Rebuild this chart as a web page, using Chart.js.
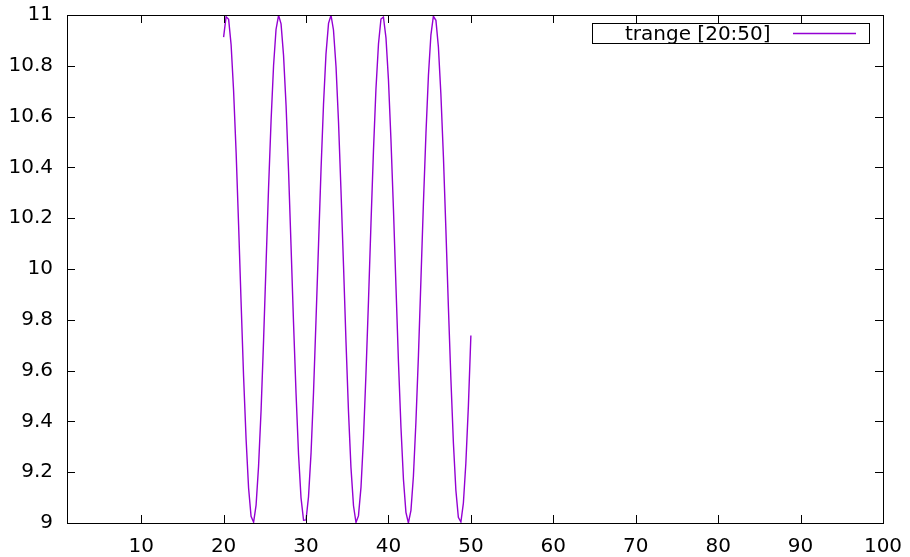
<!DOCTYPE html>
<html>
<head>
<meta charset="utf-8">
<script src="https://cdn.jsdelivr.net/npm/chart.js@4.4.1/dist/chart.umd.min.js"></script>
<style>
    html, body { margin: 0; padding: 0; background: #fff; }
    #wrap { width: 910px; height: 557px; }
</style>
</head>
<body>
<div id="wrap"><canvas id="plot" width="910" height="557"></canvas></div>
<script>
// parametric samples, t from 20 to 50 (100 samples)
const tValues = [
    20.00, 20.30, 20.61, 20.91, 21.21, 21.52, 21.82, 22.12, 22.42, 22.73,
    23.03, 23.33, 23.64, 23.94, 24.24, 24.55, 24.85, 25.15, 25.45, 25.76,
    26.06, 26.36, 26.67, 26.97, 27.27, 27.58, 27.88, 28.18, 28.48, 28.79,
    29.09, 29.39, 29.70, 30.00, 30.30, 30.61, 30.91, 31.21, 31.52, 31.82,
    32.12, 32.42, 32.73, 33.03, 33.33, 33.64, 33.94, 34.24, 34.55, 34.85,
    35.15, 35.45, 35.76, 36.06, 36.36, 36.67, 36.97, 37.27, 37.58, 37.88,
    38.18, 38.48, 38.79, 39.09, 39.39, 39.70, 40.00, 40.30, 40.61, 40.91,
    41.21, 41.52, 41.82, 42.12, 42.42, 42.73, 43.03, 43.33, 43.64, 43.94,
    44.24, 44.55, 44.85, 45.15, 45.45, 45.76, 46.06, 46.36, 46.67, 46.97,
    47.27, 47.58, 47.88, 48.18, 48.48, 48.79, 49.09, 49.39, 49.70, 50.00
];
const yValues = [
    10.913, 10.993, 10.983, 10.883, 10.703, 10.458, 10.172, 9.870, 9.580, 9.329,
    9.138, 9.026, 9.003, 9.070, 9.223, 9.446, 9.720, 10.019, 10.316, 10.585,
    10.800, 10.943, 10.999, 10.965, 10.842, 10.643, 10.385, 10.092, 9.791, 9.509,
    9.271, 9.100, 9.011, 9.012, 9.103, 9.276, 9.515, 9.798, 10.099, 10.392,
    10.648, 10.846, 10.967, 10.999, 10.941, 10.796, 10.580, 10.310, 10.012, 9.713,
    9.440, 9.219, 9.068, 9.002, 9.028, 9.141, 9.334, 9.586, 9.877, 10.179,
    10.464, 10.707, 10.886, 10.984, 10.992, 10.910, 10.745, 10.512, 10.232, 9.932,
    9.637, 9.375, 9.171, 9.042, 9.000, 9.050, 9.185, 9.396, 9.661, 9.957,
    10.257, 10.534, 10.762, 10.921, 10.995, 10.979, 10.874, 10.689, 10.441, 10.154,
    9.852, 9.563, 9.315, 9.129, 9.022, 9.004, 9.078, 9.235, 9.462, 9.738
];
const xTicks = [10, 20, 30, 40, 50, 60, 70, 80, 90, 100];
const yTicks = [9, 9.2, 9.4, 9.6, 9.8, 10, 10.2, 10.4, 10.6, 10.8, 11];
const seriesLabel = "trange [20:50]";

const FONT = "'DejaVu Sans', sans-serif";
const LINE_COLOR = "#9400d3";

// gnuplot-style frame, inward ticks on all four sides and a boxed key
const framePlugin = {
    id: "frame",
    afterDraw(chart) {
        const ctx = chart.ctx;
        const a = chart.chartArea;
        const xs = chart.scales.x;
        const ys = chart.scales.y;
        const tick = 8;
        ctx.save();
        ctx.strokeStyle = "#000";
        ctx.lineWidth = 1;
        ctx.beginPath();
        xTicks.forEach(v => {
            const px = Math.round(xs.getPixelForValue(v)) + 0.5;
            ctx.moveTo(px, a.bottom); ctx.lineTo(px, a.bottom - tick);
            ctx.moveTo(px, a.top); ctx.lineTo(px, a.top + tick);
        });
        yTicks.forEach(v => {
            const py = Math.round(ys.getPixelForValue(v)) + 0.5;
            ctx.moveTo(a.left, py); ctx.lineTo(a.left + tick, py);
            ctx.moveTo(a.right, py); ctx.lineTo(a.right - tick, py);
        });
        ctx.stroke();
        ctx.strokeRect(Math.round(a.left) + 0.5, Math.round(a.top) + 0.5,
            Math.round(a.right - a.left), Math.round(a.bottom - a.top));

        // key
        const boxL = 592.5, boxT = 23.5, boxW = 277, boxH = 20;
        ctx.fillStyle = "#fff";
        ctx.fillRect(boxL, boxT, boxW, boxH);
        ctx.strokeRect(boxL, boxT, boxW, boxH);
        ctx.fillStyle = "#000";
        ctx.font = "20px " + FONT;
        ctx.textBaseline = "middle";
        ctx.textAlign = "left";
        ctx.fillText(seriesLabel, 625, boxT + boxH / 2 + 1);
        ctx.strokeStyle = LINE_COLOR;
        ctx.lineWidth = 1.5;
        ctx.beginPath();
        ctx.moveTo(793, 33.5);
        ctx.lineTo(856, 33.5);
        ctx.stroke();
        ctx.restore();
    }
};

new Chart(document.getElementById("plot"), {
    type: "scatter",
    data: {
        datasets: [{
            label: seriesLabel,
            data: tValues.map((t, i) => ({ x: t, y: yValues[i] })),
            showLine: true,
            borderColor: LINE_COLOR,
            borderWidth: 1.4,
            pointRadius: 0,
            tension: 0,
            fill: false
        }]
    },
    options: {
        responsive: false,
        animation: false,
        devicePixelRatio: 1,
        layout: { padding: { left: 0, top: 15, right: 27, bottom: 0 } },
        plugins: {
            legend: { display: false },
            tooltip: { enabled: false }
        },
        scales: {
            x: {
                type: "linear",
                min: 1,
                max: 100,
                grid: { display: false, drawTicks: false },
                border: { display: false },
                afterBuildTicks: s => { s.ticks = xTicks.map(v => ({ value: v })); },
                afterFit: s => {
                    s.height = 34;
                    s.paddingLeft = 0; s.paddingRight = 0;
                },
                ticks: {
                    color: "#000",
                    padding: 12,
                    maxRotation: 0,
                    autoSkip: false,
                    font: { family: FONT, size: 20 }
                }
            },
            y: {
                type: "linear",
                min: 9,
                max: 11,
                grid: { display: false, drawTicks: false },
                border: { display: false },
                afterBuildTicks: s => { s.ticks = yTicks.map(v => ({ value: v })); },
                afterFit: s => {
                    s.width = 67;
                    s.paddingTop = 0; s.paddingBottom = 0;
                },
                ticks: {
                    color: "#000",
                    padding: 14,
                    autoSkip: false,
                    font: { family: FONT, size: 20 },
                    callback: v => String(Number(v.toFixed(1)))
                }
            }
        }
    },
    plugins: [framePlugin]
});
</script>
</body>
</html>
